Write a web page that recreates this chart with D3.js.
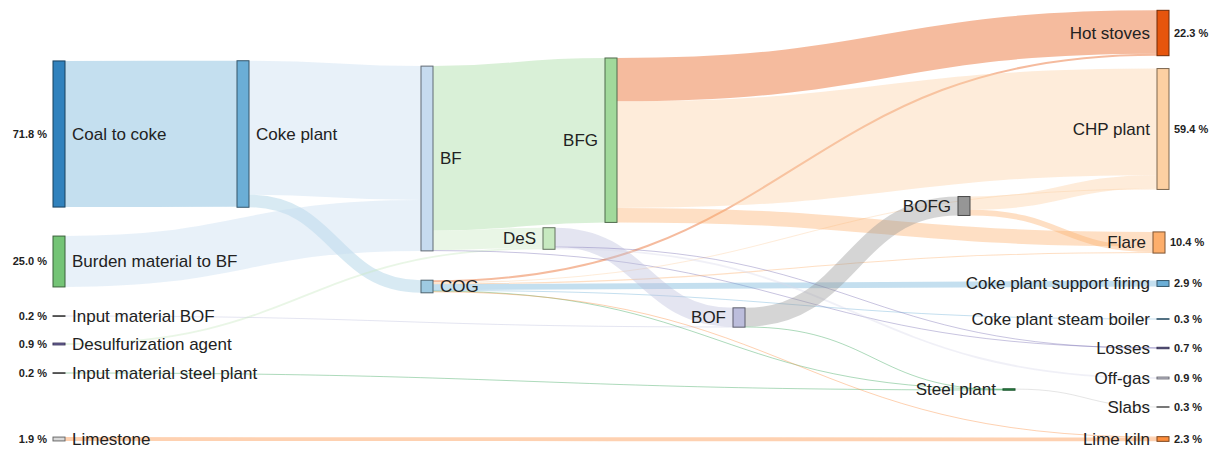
<!DOCTYPE html>
<html>
<head>
<meta charset="utf-8">
<script src="https://cdn.jsdelivr.net/npm/d3@7"></script>
<style>
  html, body { margin: 0; padding: 0; background: #fff; }
  svg { display: block; font-family: "Liberation Sans", Arial, sans-serif; }
</style>
</head>
<body>
<svg id="chart" width="1211" height="450"></svg>
<script>
// ---------------- DATA ----------------
const nodeNames = [
  "Coal to coke", "Burden material to BF", "Input material BOF", "Desulfurization agent",
  "Input material steel plant", "Limestone", "Coke plant", "BF", "COG", "DeS", "BFG",
  "BOF", "BOFG", "Steel plant", "Hot stoves", "CHP plant", "Flare",
  "Coke plant support firing", "Coke plant steam boiler", "Losses", "Off-gas", "Slabs", "Lime kiln"
];
const nodeColors = [
  "#3182bd", "#74c476", "#636363", "#756bb1",
  "#636363", "#d9d9d9", "#6baed6", "#c6dbef", "#9ecae1", "#c7e9c0", "#a1d99b",
  "#bcbddc", "#969696", "#31a354", "#e6550d", "#fdd0a2", "#fdae6b",
  "#6baed6", "#6baed6", "#756bb1", "#dadaeb", "#bdbdbd", "#fd8d3c"
];
const linkSources = [
  "Coal to coke", "Coke plant", "Coke plant", "Burden material to BF", "Input material BOF",
  "Desulfurization agent", "Input material steel plant", "Limestone",
  "BF", "BF", "BF",
  "COG", "COG", "COG", "COG", "COG", "COG", "COG",
  "DeS", "DeS", "DeS",
  "BFG", "BFG", "BFG",
  "BOF", "BOF", "BOFG", "BOFG", "Steel plant"
];
const linkTargets = [
  "Coke plant", "BF", "COG", "BF", "BOF",
  "DeS", "Steel plant", "Lime kiln",
  "BFG", "DeS", "Losses",
  "Hot stoves", "CHP plant", "Flare", "Coke plant support firing", "Coke plant steam boiler", "Steel plant", "Lime kiln",
  "BOF", "Losses", "Off-gas",
  "Hot stoves", "CHP plant", "Flare",
  "BOFG", "Steel plant", "CHP plant", "Flare", "Slabs"
];
const linkValues = [
  71.8, 65.8, 6.2, 25.0, 0.2,
  0.9, 0.2, 1.9,
  80.8, 9.7, 0.3,
  1.0, 0.5, 0.5, 2.9, 0.3, 0.3, 0.4,
  9.3, 0.4, 0.9,
  21.3, 52.4, 7.1,
  9.3, 0.2, 6.5, 2.8, 0.3
];

// ---------------- LAYOUT (positions only) ----------------
const layout = {
  "Coal to coke":               { x: 53,   cy: 134,   label: "right", pct: "left" },
  "Burden material to BF":      { x: 53,   cy: 261.5, label: "right", pct: "left" },
  "Input material BOF":         { x: 53,   cy: 316,   label: "right", pct: "left" },
  "Desulfurization agent":      { x: 53,   cy: 344,   label: "right", pct: "left" },
  "Input material steel plant": { x: 53,   cy: 373,   label: "right", pct: "left" },
  "Limestone":                  { x: 53,   cy: 439,   label: "right", pct: "left" },
  "Coke plant":                 { x: 237,  cy: 134,   label: "right" },
  "BF":                         { x: 421,  cy: 158.5, label: "right" },
  "COG":                        { x: 421,  cy: 286.5, label: "right" },
  "DeS":                        { x: 543,  cy: 238.5, label: "left" },
  "BFG":                        { x: 605,  cy: 140.2, label: "left" },
  "BOF":                        { x: 733,  cy: 317.5, label: "left" },
  "BOFG":                       { x: 958,  cy: 206,   label: "left" },
  "Steel plant":                { x: 1003, cy: 389.5, label: "left" },
  "Hot stoves":                 { x: 1157, cy: 33,    label: "left", pct: "right" },
  "CHP plant":                  { x: 1157, cy: 129,   label: "left", pct: "right" },
  "Flare":                      { x: 1153, cy: 242.5, label: "left", pct: "right" },
  "Coke plant support firing":  { x: 1157, cy: 283.5, label: "left", pct: "right" },
  "Coke plant steam boiler":    { x: 1157, cy: 319,   label: "left", pct: "right" },
  "Losses":                     { x: 1157, cy: 348,   label: "left", pct: "right" },
  "Off-gas":                    { x: 1157, cy: 378,   label: "left", pct: "right" },
  "Slabs":                      { x: 1157, cy: 407,   label: "left", pct: "right" },
  "Lime kiln":                  { x: 1157, cy: 439,   label: "left", pct: "right" }
};
const nodeWidth = 12;

// ---------------- BUILD ----------------
const svg = d3.select("#chart");
const W = 1211, H = 450;
const ky = d3.scaleLinear().domain([0, 100]).range([0, 203.5]);
const fmt = d3.format(".1f");

const nodes = nodeNames.map((name, i) => ({ name, color: nodeColors[i], sourceLinks: [], targetLinks: [] }));
const byName = new Map(nodes.map(n => [n.name, n]));
const links = linkValues.map((v, i) => {
  const l = { source: byName.get(linkSources[i]), target: byName.get(linkTargets[i]), value: v };
  l.source.sourceLinks.push(l);
  l.target.targetLinks.push(l);
  return l;
});

nodes.forEach(n => {
  const L = layout[n.name];
  n.inV = d3.sum(n.targetLinks, l => l.value);
  n.outV = d3.sum(n.sourceLinks, l => l.value);
  n.value = Math.max(n.inV, n.outV);
  n.x0 = L.x; n.x1 = L.x + nodeWidth;
  const h = ky(n.value);
  n.y0 = L.cy - h / 2; n.y1 = L.cy + h / 2;
  n.cy = L.cy;
});
links.forEach(l => { l.width = ky(l.value); });

nodes.forEach(n => {
  n.sourceLinks.sort((a, b) => a.target.cy - b.target.cy);
  n.targetLinks.sort((a, b) => a.source.cy - b.source.cy);
  let y = n.y0;
  n.sourceLinks.forEach(l => { l.y0 = y + l.width / 2; y += l.width; });
  y = n.y0;
  n.targetLinks.forEach(l => { l.y1 = y + l.width / 2; y += l.width; });
});

const linkGen = d3.linkHorizontal()
  .source(d => [d.source.x1, d.y0])
  .target(d => [d.target.x0, d.y1]);

svg.append("rect").attr("width", W).attr("height", H).attr("fill", "#fff");

svg.append("g")
  .attr("fill", "none")
  .selectAll("path")
  .data(links)
  .join("path")
  .attr("d", linkGen)
  .attr("stroke", d => d.target.color)
  .attr("stroke-opacity", 0.4)
  .attr("stroke-width", d => Math.max(1, d.width));

svg.append("g")
  .selectAll("rect")
  .data(nodes)
  .join("rect")
  .attr("x", d => d.x0)
  .attr("y", d => d.y0)
  .attr("width", nodeWidth)
  .attr("height", d => Math.max(0.5, d.y1 - d.y0))
  .attr("fill", d => d.color)
  .attr("stroke", d => d3.rgb(d.color).darker(2))
  .attr("stroke-width", 1);

const labels = svg.append("g").attr("font-size", 17).attr("fill", "#222");
labels.selectAll("text")
  .data(nodes)
  .join("text")
  .attr("x", d => layout[d.name].label === "right" ? d.x1 + 7 : d.x0 - 7)
  .attr("y", d => d.cy)
  .attr("dy", "0.35em")
  .attr("text-anchor", d => layout[d.name].label === "right" ? "start" : "end")
  .text(d => d.name);

const pcts = svg.append("g").attr("font-size", 11).attr("font-weight", "bold").attr("fill", "#222");
pcts.selectAll("text")
  .data(nodes.filter(n => layout[n.name].pct))
  .join("text")
  .attr("x", d => layout[d.name].pct === "left" ? d.x0 - 6 : d.x1 + 5)
  .attr("y", d => d.cy)
  .attr("dy", "0.35em")
  .attr("text-anchor", d => layout[d.name].pct === "left" ? "end" : "start")
  .text(d => fmt(d.value) + " %");
</script>
</body>
</html>
